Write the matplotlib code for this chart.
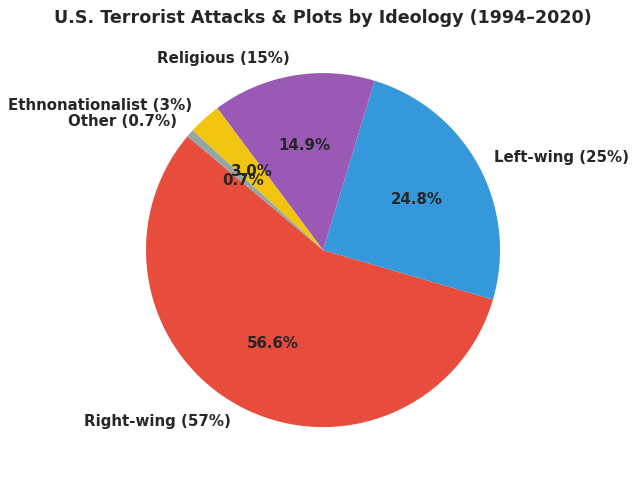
import matplotlib.pyplot as plt
import seaborn as sns

sns.set_theme(style="white")
plt.rcParams['font.family'] = ['DejaVu Sans']

# Share of attacks & plots by ideology
labels = ['Right-wing (57%)', 'Left-wing (25%)', 'Religious (15%)',
          'Ethnonationalist (3%)', 'Other (0.7%)']
shares = [56.6, 24.8, 14.9, 3.0, 0.7]
colors = ['#e74c3c', '#3498db', '#9b59b6', '#f1c40f', '#95a5a6']

fig = plt.figure(figsize=(6.38, 4.8), dpi=100)
ax = fig.add_axes([0.1595, 0.018, 0.6936, 0.922])

wedges, texts, autotexts = ax.pie(shares, labels=labels, colors=colors,
                                  autopct='%1.1f%%', startangle=140,
                                  wedgeprops={'linewidth': 0},
                                  textprops={'fontsize': 10.8, 'fontweight': 'bold', 'color': '#262626'})
ax.set_aspect('equal')
ax.set_xlim(-1.25, 1.25)
ax.set_ylim(-1.25, 1.25)
ax.set_title('U.S. Terrorist Attacks & Plots by Ideology (1994–2020)',
             fontsize=12.6, fontweight='bold', color='#262626', pad=4.5)

fig.savefig('out.png', dpi=100)
